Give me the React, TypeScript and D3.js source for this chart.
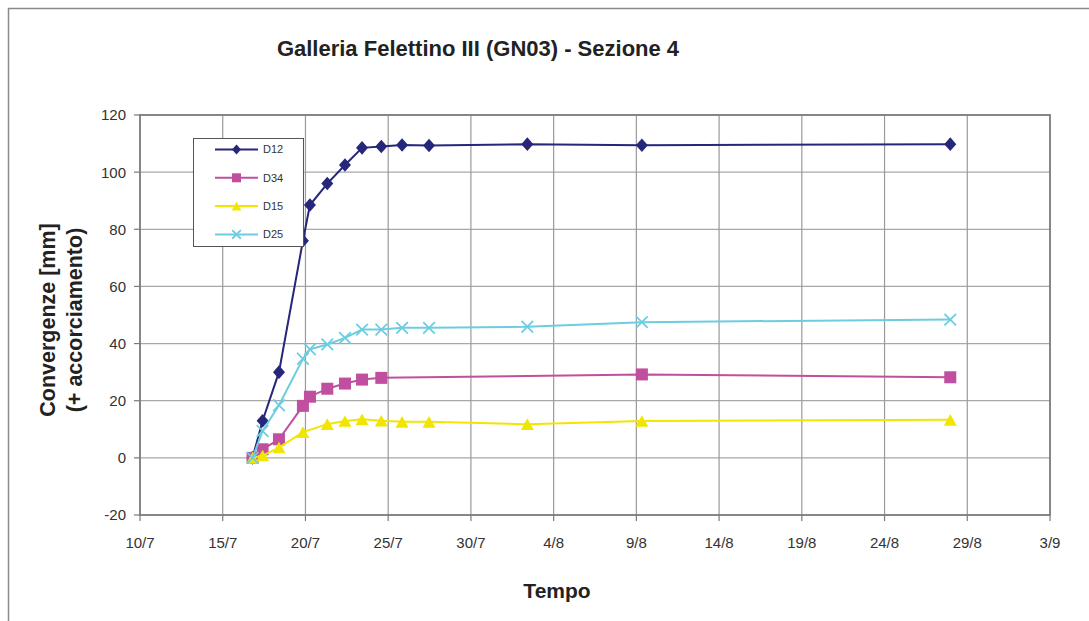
import React, { useEffect, useRef } from "react";
import * as d3 from "d3";

// measurement times (dd/mm, 2008 assumed)
const dates = [
  "2008-07-16T19:15", "2008-07-17T09:50", "2008-07-18T09:35", "2008-07-19T20:20",
  "2008-07-20T06:30", "2008-07-21T07:40", "2008-07-22T09:20", "2008-07-23T10:05",
  "2008-07-24T14:00", "2008-07-25T20:10", "2008-07-27T11:15", "2008-08-02T09:50",
  "2008-08-09T08:00", "2008-08-27T23:20",
];

const d12 = [0, 13, 30, 76, 88.5, 96, 102.5, 108.5, 109, 109.5, 109.3, 109.8, 109.4, 109.8];
const d34 = [0, 3, 6.5, 18.2, 21.4, 24.2, 26, 27.4, 28, null, null, null, 29.2, 28.2];
const d15 = [0, 0.8, 3.6, 9, null, 11.8, 12.9, 13.5, 13, 12.6, 12.6, 11.8, 12.9, 13.3];
const d25 = [0, 9.4, 18.4, 34.7, 38, 39.7, 42, 44.9, 44.9, 45.5, 45.5, 45.9, 47.5, 48.4];

const xTickLabels = ["10/7", "15/7", "20/7", "25/7", "30/7", "4/8", "9/8", "14/8", "19/8", "24/8", "29/8", "3/9"];
const yTicks = [-20, 0, 20, 40, 60, 80, 100, 120];

const series = [
  { name: "D12", values: d12, color: "#26267a", marker: "diamond" },
  { name: "D34", values: d34, color: "#c04f9f", marker: "square" },
  { name: "D15", values: d15, color: "#f2e600", marker: "triangle" },
  { name: "D25", values: d25, color: "#6dcde0", marker: "x" },
];

const W = 1089;
const H = 621;
const m = { left: 140, right: 1050, top: 115, bottom: 515 };
const FONT = "Liberation Sans, Arial, sans-serif";

const parse = d3.isoParse;
const tickDate = (s: string) => {
  const [d, mo] = s.split("/").map(Number);
  return new Date(2008, mo - 1, d);
};

function drawMarker(g: any, type: string, x: number, y: number, color: string, k = 1) {
  if (type === "diamond") {
    const w = 6 * k, h = 6.8 * k;
    g.append("path")
      .attr("d", `M${x},${y - h}L${x + w},${y}L${x},${y + h}L${x - w},${y}Z`)
      .attr("fill", color);
  } else if (type === "square") {
    const s = 6 * k;
    g.append("rect")
      .attr("x", x - s)
      .attr("y", y - s)
      .attr("width", 2 * s)
      .attr("height", 2 * s)
      .attr("fill", color);
  } else if (type === "triangle") {
    const w = 6.5 * k, h = 5.8 * k;
    g.append("path")
      .attr("d", `M${x},${y - h}L${x + w},${y + h}L${x - w},${y + h}Z`)
      .attr("fill", color);
  } else {
    const r = 5.8 * k;
    g.append("path")
      .attr("d", `M${x - r},${y - r}L${x + r},${y + r}M${x - r},${y + r}L${x + r},${y - r}`)
      .attr("stroke", color)
      .attr("stroke-width", 1.8)
      .attr("fill", "none");
  }
}

const App: React.FC = () => {
  const ref: any = useRef();

  useEffect(() => {
    const svg = d3.select(ref.current);
    svg.selectAll("*").remove();

    const x = d3
      .scaleTime()
      .domain([tickDate("10/7"), tickDate("3/9")])
      .range([m.left, m.right]);
    const y = d3.scaleLinear().domain([-20, 120]).range([m.bottom, m.top]);

    // outer frame
    svg.append("path")
      .attr("d", `M8.5,${H}V8.5H${W}`)
      .attr("fill", "none")
      .attr("stroke", "#8a8a8a")
      .attr("stroke-width", 1.5);

    // gridlines
    svg.append("g")
      .selectAll("line")
      .data(yTicks.slice(1, -1))
      .enter()
      .append("line")
      .attr("x1", m.left)
      .attr("x2", m.right)
      .attr("y1", (d: number) => y(d))
      .attr("y2", (d: number) => y(d))
      .attr("stroke", "#a8a8a8")
      .attr("stroke-width", 1.2);

    svg.append("g")
      .selectAll("line")
      .data(xTickLabels.slice(1, -1))
      .enter()
      .append("line")
      .attr("x1", (d: string) => x(tickDate(d)))
      .attr("x2", (d: string) => x(tickDate(d)))
      .attr("y1", m.top)
      .attr("y2", m.bottom)
      .attr("stroke", "#9a9a9a")
      .attr("stroke-width", 1.2);

    // plot border
    svg.append("rect")
      .attr("x", m.left)
      .attr("y", m.top)
      .attr("width", m.right - m.left)
      .attr("height", m.bottom - m.top)
      .attr("fill", "none")
      .attr("stroke", "#7a7a7a")
      .attr("stroke-width", 1.8);

    // y axis ticks
    const ya = svg.append("g");
    yTicks.forEach((t) => {
      ya.append("line")
        .attr("x1", m.left - 6)
        .attr("x2", m.left)
        .attr("y1", y(t))
        .attr("y2", y(t))
        .attr("stroke", "#7a7a7a")
        .attr("stroke-width", 1.2);
      ya.append("text")
        .attr("x", m.left - 14)
        .attr("y", y(t))
        .attr("dy", "0.36em")
        .attr("text-anchor", "end")
        .attr("font-family", FONT)
        .attr("font-size", 15)
        .attr("fill", "#333")
        .text(t);
    });

    // x axis ticks
    const xa = svg.append("g");
    xTickLabels.forEach((t) => {
      const px = x(tickDate(t));
      xa.append("line")
        .attr("x1", px)
        .attr("x2", px)
        .attr("y1", m.bottom)
        .attr("y2", m.bottom + 6)
        .attr("stroke", "#7a7a7a")
        .attr("stroke-width", 1.2);
      xa.append("text")
        .attr("x", px)
        .attr("y", m.bottom + 33)
        .attr("text-anchor", "middle")
        .attr("font-family", FONT)
        .attr("font-size", 15)
        .attr("fill", "#333")
        .text(t);
    });

    // series
    series.forEach((s) => {
      const pts = dates
        .map((d, i) => ({ t: parse(d) as Date, v: s.values[i] }))
        .filter((p) => p.v !== null);
      const line: any = d3
        .line()
        .x((p: any) => x(p.t))
        .y((p: any) => y(p.v));
      const g = svg.append("g");
      g.append("path")
        .datum(pts)
        .attr("fill", "none")
        .attr("stroke", s.color)
        .attr("stroke-width", 2)
        .attr("d", line);
      pts.forEach((p: any) => drawMarker(g, s.marker, x(p.t), y(p.v), s.color));
    });

    // legend
    const lg = svg.append("g");
    lg.append("rect")
      .attr("x", 193.5)
      .attr("y", 138.5)
      .attr("width", 110)
      .attr("height", 108)
      .attr("fill", "#fff")
      .attr("stroke", "#555")
      .attr("stroke-width", 1);
    series.forEach((s, i) => {
      const ly = 149.5 + i * 28.3;
      lg.append("line")
        .attr("x1", 215)
        .attr("x2", 258)
        .attr("y1", ly)
        .attr("y2", ly)
        .attr("stroke", s.color)
        .attr("stroke-width", 2);
      drawMarker(lg, s.marker, 236.5, ly, s.color, 0.75);
      lg.append("text")
        .attr("x", 263)
        .attr("y", ly)
        .attr("dy", "0.36em")
        .attr("font-family", FONT)
        .attr("font-size", 11)
        .attr("fill", "#333")
        .text(s.name);
    });

    // titles
    svg.append("text")
      .attr("x", 478)
      .attr("y", 56)
      .attr("text-anchor", "middle")
      .attr("font-family", FONT)
      .attr("font-weight", "bold")
      .attr("font-size", 22)
      .attr("fill", "#222")
      .text("Galleria Felettino III (GN03) - Sezione 4");

    svg.append("text")
      .attr("x", 557)
      .attr("y", 598)
      .attr("text-anchor", "middle")
      .attr("font-family", FONT)
      .attr("font-weight", "bold")
      .attr("font-size", 21)
      .attr("fill", "#222")
      .text("Tempo");

    const yl = svg.append("text")
      .attr("transform", `translate(0,320) rotate(-90)`)
      .attr("text-anchor", "middle")
      .attr("font-family", FONT)
      .attr("font-weight", "bold")
      .attr("font-size", 21.5)
      .attr("fill", "#222");
    yl.append("tspan").attr("x", 0).attr("y", 55).text("Convergenze [mm]");
    yl.append("tspan").attr("x", 0).attr("y", 82).text("(+ accorciamento)");
  }, []);

  return (
    <svg
      ref={ref}
      width={W}
      height={H}
      style={{ position: "absolute", left: 0, top: 0, background: "#fff" }}
    />
  );
};

export default App;
